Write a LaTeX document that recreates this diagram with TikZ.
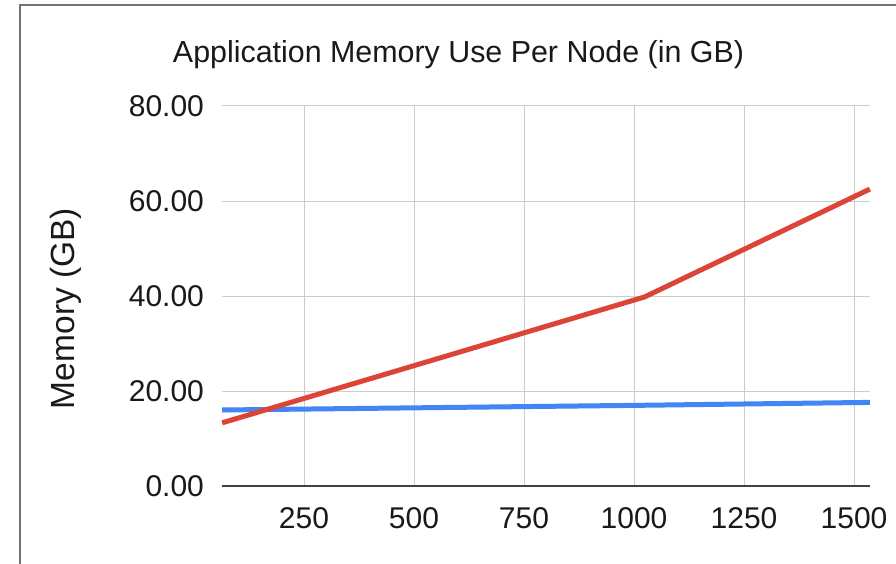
\documentclass[tikz,border=0pt]{standalone}
\usepackage{fontspec}
\setmainfont{Liberation Sans}
\begin{document}
\begin{tikzpicture}[x=1pt,y=-1pt,
  lbl/.style={inner sep=0pt,font=\fontsize{30}{36}\selectfont,text=black!90},
  grid/.style={draw=black!20,line width=1pt},
  axisline/.style={draw=black!75,line width=1.3pt},
  series/.style={line width=5pt,line join=round}]
\definecolor{sred}{HTML}{DB4437}
\definecolor{sblue}{HTML}{4285F4}
\useasboundingbox[fill=white] (0,0) rectangle (896,564);
\draw[draw=black!55,line width=2pt] (19.5,570) -- (19.5,5) -- (900,5);
\node[lbl,anchor=base,font=\fontsize{30.4}{36}\selectfont] (title) at (458.5,63) {Application Memory Use Per Node (in GB)};
\node[lbl,anchor=base,rotate=90,font=\fontsize{33.5}{38}\selectfont] (ytitle) at (74,308.5) {Memory (GB)};
\begin{scope}[shift={(194,486)},x=0.44pt,y=4.75pt]
  \foreach \v in {250,500,...,1500} \draw[grid] (\v,0) -- (\v,80);
  \foreach \v in {20,40,60,80} \draw[grid] (64,\v) -- (1536,\v);
  \draw[axisline] (64,0) -- (1536,0);
  \foreach \v in {0,20,40,60,80} \node[lbl,anchor=east] (yl\v) at (23,\v) {\v.00};
  \foreach \v in {250,500,...,1500} \node[lbl,anchor=base] (xl\v) at (\v,-9) {\v};
  \draw[series,sblue] (64,16.0) -- (1024,17.0) -- (1536,17.6);
  \draw[series,sred] (64,13.3) -- (1024,39.8) -- (1536,62.5);
\end{scope}
\end{tikzpicture}
\end{document}
